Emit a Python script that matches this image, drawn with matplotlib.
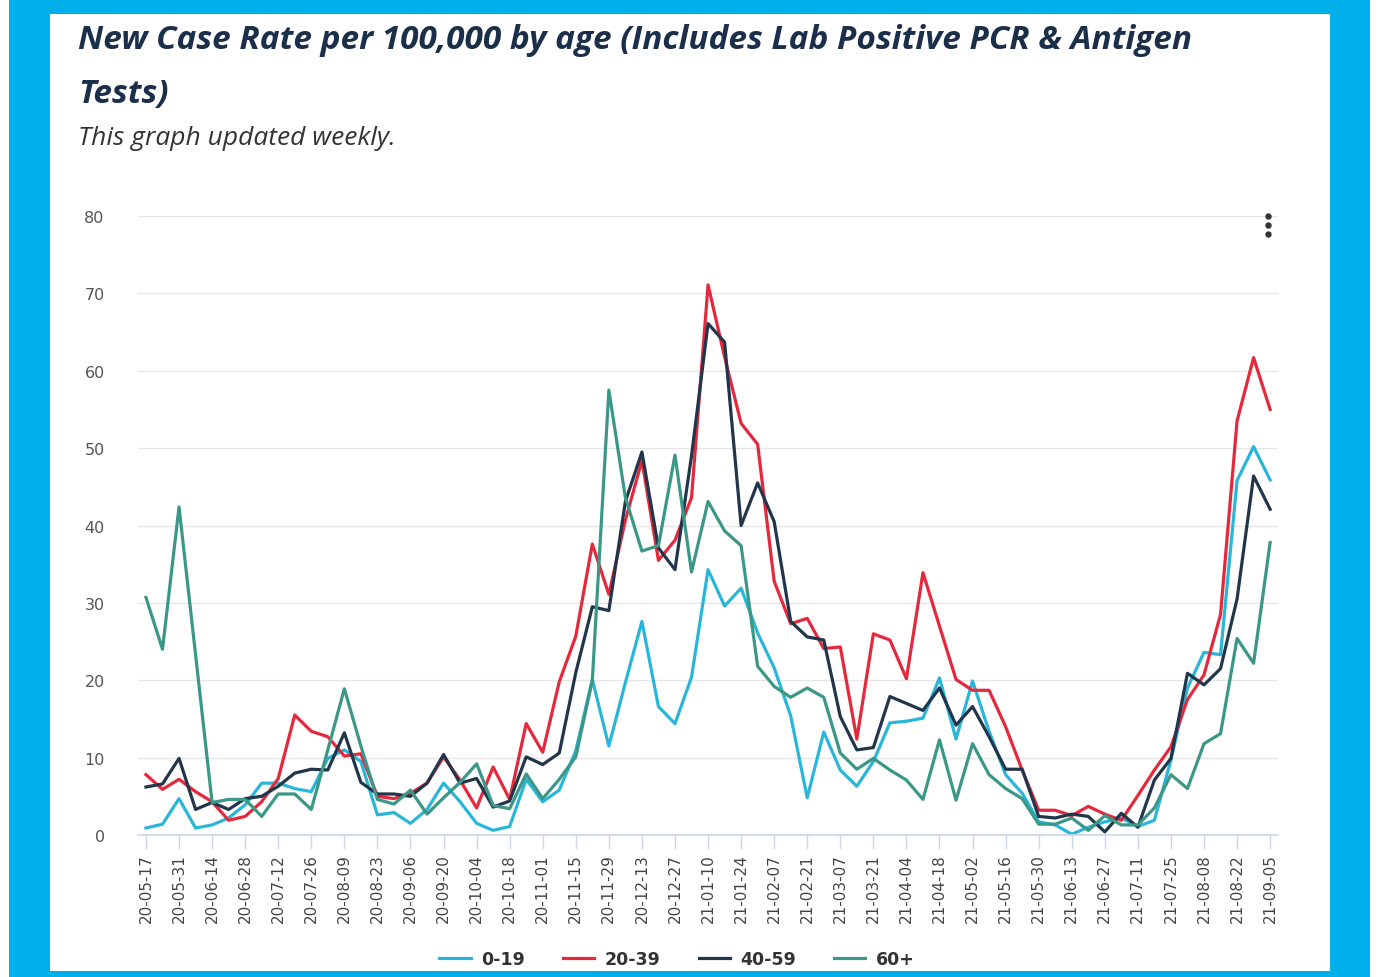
import numpy as np
import matplotlib
matplotlib.use('Agg')

import matplotlib.pyplot as plt
from matplotlib.patches import Rectangle
from matplotlib.lines import Line2D

# weekly labels, one every second week
week_labels = [
    "20-05-17", "20-05-31", "20-06-14", "20-06-28", "20-07-12", "20-07-26",
    "20-08-09", "20-08-23", "20-09-06", "20-09-20", "20-10-04", "20-10-18",
    "20-11-01", "20-11-15", "20-11-29", "20-12-13", "20-12-27", "21-01-10",
    "21-01-24", "21-02-07", "21-02-21", "21-03-07", "21-03-21", "21-04-04",
    "21-04-18", "21-05-02", "21-05-16", "21-05-30", "21-06-13", "21-06-27",
    "21-07-11", "21-07-25", "21-08-08", "21-08-22", "21-09-05",
]

# rate per 100,000, one value per week
age_0_19 = [
    0.9, 1.4, 4.7, 0.9, 1.3, 2.2, 3.9, 6.7, 6.7, 6.0,
    5.6, 9.9, 11.0, 9.5, 2.6, 2.9, 1.5, 3.3, 6.7, 4.3,
    1.5, 0.6, 1.1, 7.2, 4.3, 5.8, 10.9, 20.1, 11.5, 19.7,
    27.6, 16.6, 14.4, 20.4, 34.3, 29.6, 31.9, 26.1, 21.6, 15.4,
    4.8, 13.3, 8.4, 6.3, 9.5, 14.5, 14.7, 15.1, 20.3, 12.4,
    19.9, 13.4, 7.8, 5.4, 1.7, 1.3, 0.1, 1.0, 1.7, 2.2,
    1.1, 1.9, 9.7, 19.0, 23.6, 23.3, 45.8, 50.2, 45.9,
]
age_20_39 = [
    7.8, 5.9, 7.2, 5.6, 4.3, 1.9, 2.4, 4.3, 7.3, 15.5,
    13.4, 12.7, 10.2, 10.5, 5.0, 4.7, 5.4, 6.7, 10.1, 7.1,
    3.5, 8.8, 4.6, 14.4, 10.7, 19.8, 25.7, 37.6, 31.1, 40.7,
    48.4, 35.5, 38.1, 43.6, 71.1, 61.8, 53.2, 50.5, 32.8, 27.3,
    28.0, 24.1, 24.3, 12.4, 26.0, 25.2, 20.2, 33.9, 27.0, 20.1,
    18.7, 18.7, 14.0, 8.4, 3.2, 3.2, 2.5, 3.7, 2.7, 1.9,
    5.1, 8.4, 11.4, 17.5, 20.7, 28.5, 53.5, 61.7, 55.0,
]
age_40_59 = [
    6.2, 6.6, 9.9, 3.3, 4.2, 3.3, 4.7, 5.0, 6.3, 8.0,
    8.5, 8.4, 13.2, 6.8, 5.3, 5.3, 5.0, 6.7, 10.4, 6.7,
    7.3, 3.6, 4.4, 10.1, 9.1, 10.6, 21.0, 29.5, 29.0, 43.1,
    49.5, 37.1, 34.3, 49.0, 66.1, 63.7, 40.0, 45.5, 40.5, 27.6,
    25.6, 25.2, 15.3, 11.0, 11.3, 17.9, 17.0, 16.1, 19.0, 14.2,
    16.6, 12.7, 8.5, 8.5, 2.4, 2.2, 2.7, 2.4, 0.4, 2.8,
    1.0, 7.1, 9.9, 20.9, 19.4, 21.5, 30.5, 46.4, 42.1,
]
age_60_plus = [
    30.7, 24.0, 42.4, 23.3, 4.2, 4.6, 4.6, 2.4, 5.3, 5.3,
    3.3, 11.0, 18.9, 11.5, 4.6, 4.0, 5.8, 2.7, 4.8, 6.8,
    9.2, 3.8, 3.4, 7.9, 4.7, 7.2, 10.1, 20.0, 57.5, 43.6,
    36.7, 37.4, 49.1, 34.0, 43.1, 39.3, 37.4, 21.8, 19.2, 17.8,
    19.0, 17.8, 10.6, 8.5, 9.9, 8.4, 7.1, 4.6, 12.3, 4.5,
    11.8, 7.8, 6.0, 4.7, 1.4, 1.4, 2.2, 0.6, 2.5, 1.3,
    1.3, 3.5, 7.8, 6.0, 11.8, 13.1, 25.4, 22.2, 37.8,
]

series_names = ["0-19", "20-39", "40-59", "60+"]
series_colors = ["#29b6d9", "#e5283c", "#22364b", "#3b9786"]


def main():
    fig = plt.figure(figsize=(13.79, 9.78), dpi=100)

    # blue frame and white card
    fig.add_artist(Rectangle((0.0065, 0), 0.987, 1, transform=fig.transFigure,
                             facecolor="#00b0ea", edgecolor="none", zorder=-3))
    fig.add_artist(Rectangle((0.0363, 0.0061), 0.9282, 0.9785, transform=fig.transFigure,
                             facecolor="white", edgecolor="none", zorder=-2))

    ax = fig.add_axes([0.1001, 0.1452, 0.8267, 0.6329])
    ax.set_facecolor("none")

    x = np.arange(len(age_0_19))
    all_series = [age_0_19, age_20_39, age_40_59, age_60_plus]
    handles = []
    for vals, col, name in zip(all_series, series_colors, series_names):
        h, = ax.plot(x, vals, color=col, lw=2.3, label=name)
        handles.append(h)

    ax.set_xlim(-0.48, len(x) - 1 + 0.48)
    ax.set_ylim(0, 80)
    ax.set_yticks(np.arange(0, 81, 10))
    ax.set_xticks(np.arange(0, len(x), 2))
    ax.set_xticklabels(week_labels, rotation=90, fontsize=11, color="#444444")
    ax.tick_params(axis="x", length=10, color="#ccd6eb", width=1, pad=3)
    ax.tick_params(axis="y", length=0, pad=24, labelsize=11.5, labelcolor="#555555")
    ax.grid(axis="y", color="#e6e6e6", lw=1)
    ax.set_axisbelow(True)
    for s in ["top", "right", "left"]:
        ax.spines[s].set_visible(False)
    ax.spines["bottom"].set_color("#ccd6eb")
    ax.spines["bottom"].set_linewidth(1.2)

    # titles
    title_font = ["Open Sans", "Lato", "DejaVu Sans"]
    fig.text(0.0566, 0.975, "New Case Rate per 100,000 by age (Includes Lab Positive PCR & Antigen",
             fontsize=24, fontweight="bold", fontstyle="italic", color="#1c2f4a",
             family=title_font, va="top", ha="left")
    fig.text(0.0566, 0.920, "Tests)",
             fontsize=24, fontweight="bold", fontstyle="italic", color="#1c2f4a",
             family=title_font, va="top", ha="left")
    fig.text(0.0566, 0.871, "This graph updated weekly.",
             fontsize=19, fontstyle="italic", color="#333333",
             family=title_font, va="top", ha="left")

    # context menu dots
    fig.add_artist(Line2D([0.9196] * 3, [0.7781, 0.7689, 0.7597], transform=fig.transFigure,
                          marker="o", ms=3.6, linestyle="none", color="#333333"))

    leg = fig.legend(handles, series_names, loc="center", bbox_to_anchor=(0.491, 0.0184),
                     ncol=4, frameon=False, prop=dict(weight="bold", size=12.5),
                     handlelength=1.8, columnspacing=2.2, handletextpad=0.6)
    for t in leg.get_texts():
        t.set_color("#333333")

    plt.savefig("out.png", dpi=100)


if __name__ == "__main__":
    main()
